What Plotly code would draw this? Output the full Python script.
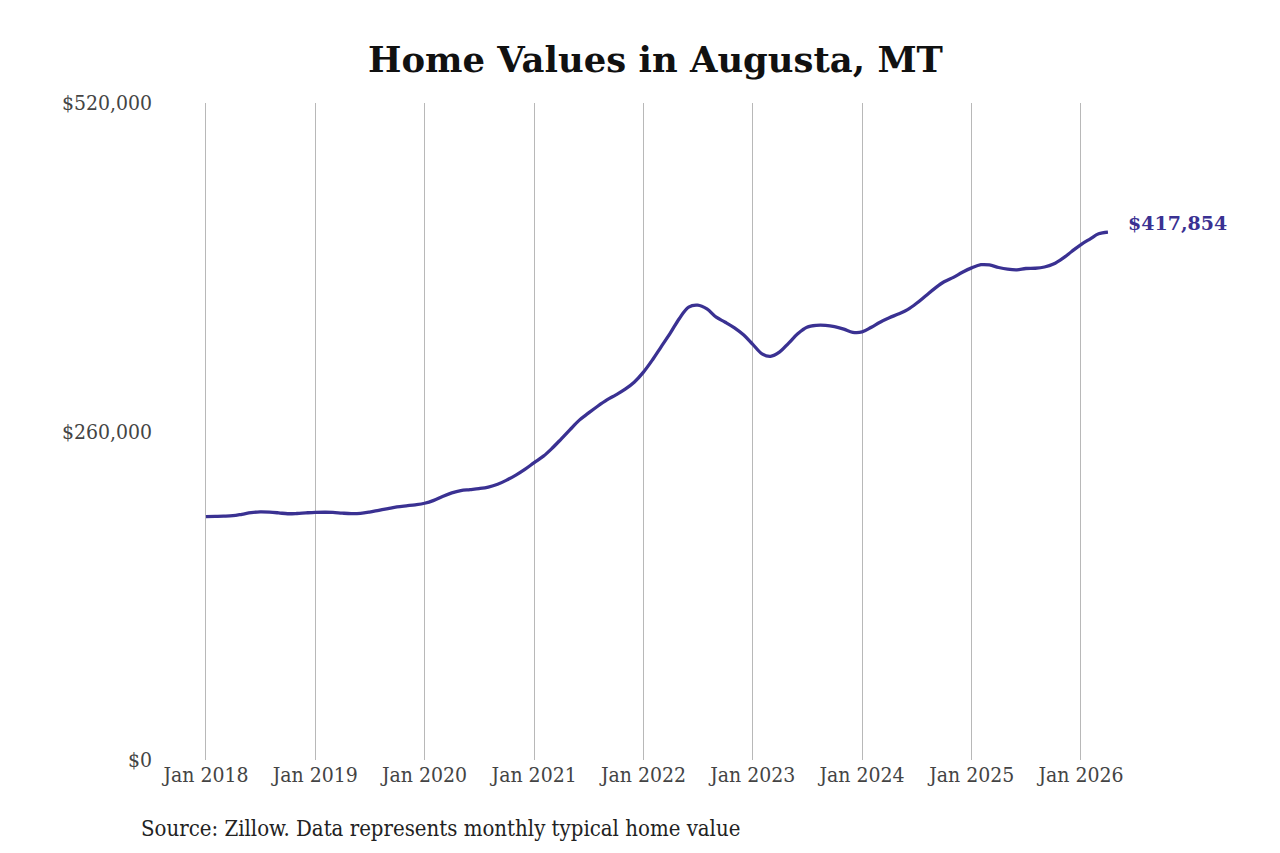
import plotly.graph_objects as go

# monthly typical home value, Jan 2018 - Apr 2026 (in $)
months = [f"{y}-{m:02d}-01" for y in range(2018, 2027) for m in range(1, 13)][:100]
values = [
    192600, 192800, 193000, 193400, 194500, 195800, 196400, 196200, 195600, 194900, 195100, 195600,
    196000, 196100, 196000, 195400, 195000, 195200, 196200, 197600, 199000, 200300, 201200, 202000,
    203200, 205500, 208600, 211400, 213200, 214000, 214800, 216000, 218200, 221500, 225500, 230000,
    235300, 240500, 246500, 254000, 261500, 269000, 274500, 280000, 285000, 289000, 293500, 299000,
    307000, 317000, 327000, 338000, 349500, 358500, 360000, 357000, 350500, 346500, 342000, 336500,
    329000, 321500, 319500, 323000, 330000, 337500, 342500, 344000, 344000, 343000, 341000, 338500,
    338800, 342500, 346500, 350000, 353000, 356500, 361500, 367500, 373500, 378500, 382000, 386000,
    389500, 392000, 391800, 389800, 388500, 388000, 389000, 389200, 390200, 392500, 397000, 402500,
    408000, 412500, 416500, 417854,
]
tick_dates = [f"{y}-01-01" for y in range(2018, 2027)]
tick_text = [f"Jan {y}" for y in range(2018, 2027)]
y_ticks = [0, 260000, 520000]
y_text = ["$0", "$260,000", "$520,000"]

line_color = "#3a3192"
serif = "DejaVu Serif Condensed, DejaVu Serif, serif"

# the page body adds 8px, so margins are shifted to compensate
L, R, T, B = 153, 157, 95, 101
PW, PH = 1280 - L - R, 853 - T - B

fig = go.Figure()
fig.add_trace(go.Scatter(
    x=months, y=values, mode="lines",
    line=dict(color=line_color, width=3.3, shape="spline"),
    hoverinfo="skip",
))

fig.add_annotation(
    x=months[-1], y=values[-1], text=f"<b>${values[-1]:,}</b>",
    showarrow=False, xanchor="left", yanchor="middle", xshift=18, yshift=9,
    font=dict(family="DejaVu Serif", size=19, color=line_color),
)
fig.add_annotation(
    x=(131 - L) / PW, y=-(820 - (T + PH)) / PH, xref="paper", yref="paper",
    text="Source: Zillow. Data represents monthly typical home value",
    showarrow=False, xanchor="left", yanchor="middle",
    font=dict(family=serif, size=22, color="#222"),
)

fig.update_layout(
    width=1280, height=853,
    margin=dict(l=L, r=R, t=T, b=B),
    paper_bgcolor="white", plot_bgcolor="white",
    showlegend=False,
    title=dict(text="<b>Home Values in Augusta, MT</b>", x=647.5 / 1280, xanchor="center",
               y=1 - 52 / 853, yanchor="middle",
               font=dict(family="DejaVu Serif", size=35.4, color="#111")),
    xaxis=dict(
        range=["2017-08-04", "2026-06-17"],
        tickvals=tick_dates, ticktext=tick_text,
        showgrid=True, gridcolor="#b8b8b8", gridwidth=1,
        zeroline=False, showline=False, ticks="",
        tickfont=dict(family=serif, size=21, color="#444"),
    ),
    yaxis=dict(
        range=[0, 520000],
        tickvals=y_ticks, ticktext=y_text,
        showgrid=False, zeroline=False, showline=False, ticks="",
        ticklabelstandoff=8,
        tickfont=dict(family=serif, size=21, color="#444"),
    ),
)

fig.write_html("out.html")
